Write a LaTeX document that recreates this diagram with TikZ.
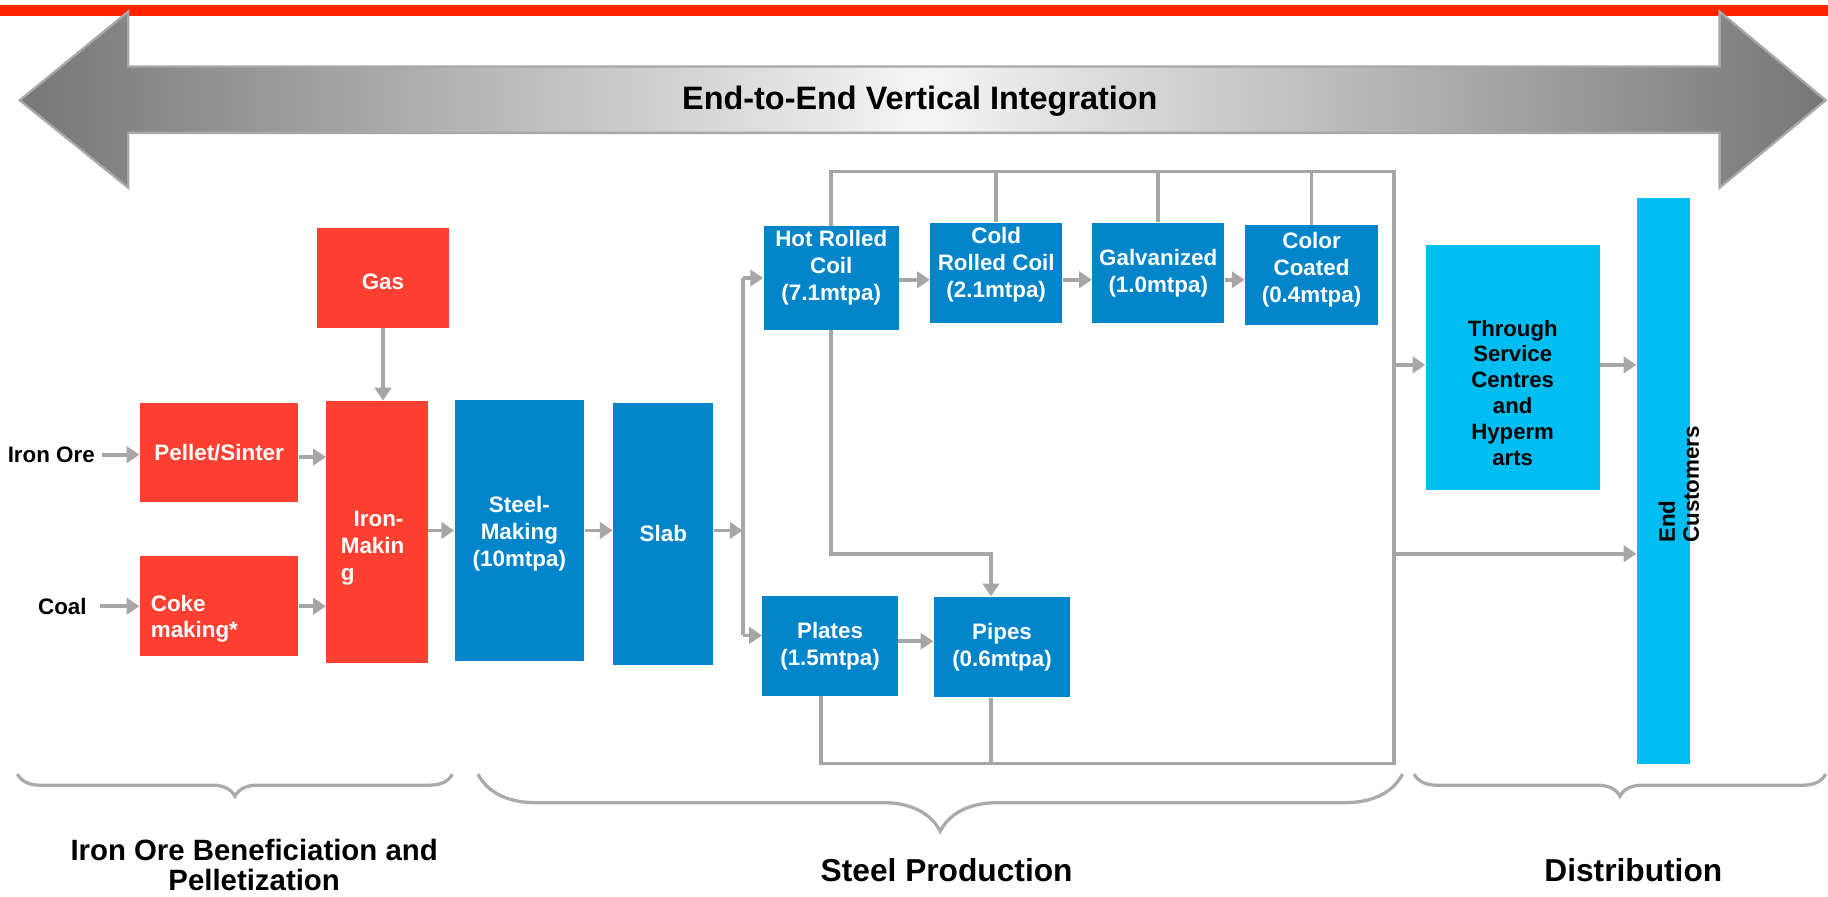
\documentclass[tikz,border=0pt]{standalone}
\usepackage{fontspec}
\setmainfont{Liberation Sans}
\usetikzlibrary{arrows.meta,decorations.pathreplacing}
\definecolor{cred}{HTML}{FF4030}
\definecolor{cblue}{HTML}{0084CA}
\definecolor{ccyan}{HTML}{00BEF2}
\definecolor{cgray}{HTML}{A6A6A6}
\definecolor{cbar}{HTML}{FF2400}
\definecolor{cbrace}{HTML}{AAAAAA}
\definecolor{arrdark}{HTML}{767676}
\definecolor{arrlight}{HTML}{F5F5F5}
\definecolor{arredge}{HTML}{A8A8A8}
\newcommand\bxfont{\fontsize{9.6}{11.6}\selectfont\bfseries}
\newcommand\cokefont{\fontsize{9.6}{11}\selectfont\bfseries}
\newcommand\thrfont{\fontsize{9.5}{11.1}\selectfont\bfseries}
\newcommand\custfont{\fontsize{9.6}{10.3}\selectfont\bfseries}
\newcommand\ttlfont{\fontsize{13.9}{16}\selectfont\bfseries}
\newcommand\lblfont{\fontsize{12.6}{13}\selectfont\bfseries}
\newcommand\lblbfont{\fontsize{13.6}{14}\selectfont\bfseries}
\begin{document}
\begin{tikzpicture}[x=0.5pt,y=-0.5pt,
  box/.style={draw=none, inner sep=0pt, align=center, font=\bxfont},
  redbox/.style={box, fill=cred, text=white},
  bluebox/.style={box, fill=cblue, text=white},
  cyanbox/.style={box, fill=ccyan, text=black},
  wtext/.style={inner sep=0pt, font=\bxfont, text=white, align=center},
  ktext/.style={inner sep=0pt, font=\bxfont, text=black, align=center},
  conn/.style={draw=cgray, line width=1.6pt},
  arr/.style={conn, -{Triangle[length=5.5pt,width=7pt]}},
  brc/.style={decorate, decoration={brace, mirror, amplitude=#1}, line width=1.4pt, draw=cbrace},
]
\useasboundingbox (0,0) rectangle (1568,769);
\fill[white] (0,0) rectangle (1568,769);

% red top bar
\fill[cbar] (0,4) rectangle (1568,14);

% big double arrow
\shadedraw[left color=arrdark, right color=arrdark, middle color=arrlight, draw=arredge, line width=1pt]
  (17,86) -- (110,10) -- (110,57) -- (1475,57) -- (1475,10) -- (1566,86)
  -- (1475,161) -- (1475,114) -- (110,114) -- (110,161) -- cycle;
\node[font=\ttlfont, inner sep=0pt] (title) at (789,87) {End-to-End Vertical Integration};

% coordinates
\coordinate (tr) at (1196,147);
\coordinate (br) at (1196,655);
\coordinate (plx) at (704,655);
\coordinate (px) at (850,0);
\coordinate (ml) at (0,475);
\coordinate (sx) at (637,0);
\coordinate (ply) at (0,545);
\coordinate (ay) at (0,240);
\coordinate (by) at (0,550);
\coordinate (ty) at (0,313);
\coordinate (ey) at (0,475);
\coordinate (py) at (0,392);
\coordinate (sy) at (0,455);

% red boxes
\node[redbox, minimum width=56.5pt, minimum height=42.5pt] (gas) at (328.5,238.5) {};
\node[wtext] (gast) at (328.5,242) {Gas};
\node[redbox, minimum width=68pt, minimum height=42.5pt] (pellet) at (188,388.5) {Pellet/Sinter};
\node[redbox, minimum width=68pt, minimum height=43pt] (coke) at (188,520) {};
\node[wtext, font=\cokefont, align=left, anchor=west] (coket) at (129,531) {Coke\\making*};
\node[redbox, minimum width=43.5pt, minimum height=112.5pt] (iron) at (323.5,456.5) {};
\node[wtext, align=left, anchor=west] (iront) at (292,470) {\hspace*{5.5pt}Iron-\\Makin\\g};

% blue boxes
\node[bluebox, minimum width=55.5pt, minimum height=112pt] (steel) at (445.5,455) {};
\node[wtext] (steelt) at (445.5,458) {Steel-\\Making\\(10mtpa)};
\node[bluebox, minimum width=43pt, minimum height=112pt] (slab) at (569,458) {Slab};
\node[bluebox, minimum width=58pt, minimum height=44.5pt] (hrc) at (713,238.5) {};
\node[wtext] (hrct) at (713,230) {Hot Rolled\\Coil\\(7.1mtpa)};
\node[bluebox, minimum width=56.5pt, minimum height=43pt] (crc) at (854.5,234) {};
\node[wtext] (crct) at (854.5,227) {Cold\\Rolled Coil\\(2.1mtpa)};
\node[bluebox, minimum width=56.5pt, minimum height=43pt] (galv) at (993.5,234) {Galvanized\\(1.0mtpa)};
\node[bluebox, minimum width=57pt, minimum height=43pt] (color) at (1125,236) {};
\node[wtext] (colort) at (1125,231) {Color\\Coated\\(0.4mtpa)};
\node[bluebox, minimum width=58pt, minimum height=43pt] (plates) at (712,554) {Plates\\(1.5mtpa)};
\node[bluebox, minimum width=58.5pt, minimum height=43pt] (pipes) at (859.5,555) {Pipes\\(0.6mtpa)};

% cyan boxes
\node[cyanbox, minimum width=74.5pt, minimum height=105pt] (thr) at (1297.5,315) {};
\node[ktext, font=\thrfont] (thrt) at (1297.5,337) {Through\\Service\\Centres\\and\\Hyperm\\arts};
\node[cyanbox, minimum width=23pt, minimum height=242.5pt] (endc) at (1427,412.5) {};
\node[ktext, font=\custfont, align=left, rotate=90, anchor=west] (endct) at (1440,466) {End\\Customers};

% input labels
\node[ktext, font=\bxfont] (ore) at (44,390) {Iron Ore};
\node[ktext, font=\bxfont] (coal) at (53.5,520) {Coal};

% connectors: left part
\draw[arr] (gas.south) -- (gas.south |- iron.north);
\draw[arr] ([xshift=3pt]ore.east) -- (ore.east -| pellet.west);
\draw[arr] ([xshift=5.5pt]coal.east) -- (coal.east -| coke.west);
\draw[arr] (pellet.east |- py) -- (iron.west |- py);
\draw[arr] (coke.east) -- (coke.east -| iron.west);
\draw[arr] (iron.east |- sy) -- (steel.west |- sy);
\draw[arr] (steel.east |- sy) -- (slab.west |- sy);

% slab split
\draw[arr] (slab.east |- sy) -- (sx |- sy);
\draw[conn] (sx |- hrc.west) -- (sx |- ply);
\draw[arr] (sx |- hrc.west) -- (hrc.west);
\draw[arr] (sx |- ply) -- (plates.west |- ply);

% product chain
\draw[arr] (hrc.east |- ay) -- (crc.west |- ay);
\draw[arr] (crc.east |- ay) -- (galv.west |- ay);
\draw[arr] (galv.east |- ay) -- (color.west |- ay);
\draw[arr] (plates.east |- by) -- (pipes.west |- by);
\draw[arr] (hrc.south) -- (hrc.south |- ml) -- (px |- ml) -- (pipes.north -| px);

% collecting frame
\draw[conn] (hrc.north) -- (hrc.north |- tr) -- (tr) -- (br) -- (plx) -- (plx |- plates.south);
\draw[conn] (crc.north) -- (crc.north |- tr);
\draw[conn] (galv.north) -- (galv.north |- tr);
\draw[conn] (color.north) -- (color.north |- tr);
\draw[conn] (pipes.south -| px) -- (px |- br);

% distribution
\draw[arr] (tr |- ty) -- (thr.west |- ty);
\draw[arr] (thr.east |- ty) -- (endc.west |- ty);
\draw[arr] (tr |- ey) -- (endc.west |- ey);

% braces
\draw[brc=9.5pt] (15,664) -- (388,664);
\draw[brc=24.5pt] (410,664) -- (1203,664);
\draw[brc=9.5pt] (1213,664) -- (1566,664);

% section labels
\node[ktext, font=\lblfont] (lab1) at (218,742) {Iron Ore Beneficiation and\\Pelletization};
\node[ktext, font=\lblbfont] (lab2) at (812,746) {Steel Production};
\node[ktext, font=\lblbfont] (lab3) at (1401,746) {Distribution};
\end{tikzpicture}
\end{document}
